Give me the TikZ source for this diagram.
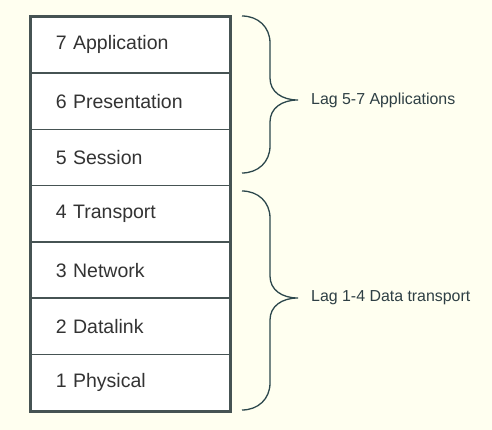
\documentclass[tikz,border=0pt]{standalone}
\usepackage{fontspec}
\setmainfont{Liberation Sans}
\definecolor{bgcream}{HTML}{FFFFF0}
\definecolor{boxline}{HTML}{465353}
\definecolor{boxtext}{HTML}{333333}
\definecolor{bracecol}{HTML}{2C474C}
\definecolor{labtext}{HTML}{2E3F44}
\begin{document}
\begin{tikzpicture}[x=1pt,y=-1pt,
  layer/.style={draw=boxline, line width=1.6pt, fill=white, rectangle,
    minimum width=199pt, minimum height=56.29pt, inner xsep=25pt,
    text width=149pt, align=left, font=\fontsize{19.5}{22}\selectfont,
    text=boxtext, anchor=north west},
  bracepath/.style={draw=bracecol, line width=1.3pt},
  bracelabel/.style={anchor=west, font=\fontsize{15.9}{18}\selectfont, text=labtext, inner sep=0pt}]
\useasboundingbox (0,0) rectangle (492,430);
\fill[bgcream] (0,0) rectangle (492,430);
% layers
\node[layer] (l7) at (30,16) {7 Application};
\node[layer] (l6) at (30,72.29) {6 Presentation};
\node[layer] (l5) at (30,128.57) {5 Session};
\node[layer] (l4) at (30,184.86) {4 Transport};
\node[layer] (l3) at (30,241.14) {3 Network};
\node[layer] (l2) at (30,297.43) {2 Datalink};
\node[layer] (l1) at (30,353.71) {1 Physical};
\draw[boxline, line width=1.9pt] (l7.north west) rectangle (l1.south east);
% upper brace
\coordinate (ua) at (242,16);
\coordinate (ut) at (298,100);
\coordinate (ub) at (242,173);
\draw[bracepath] (ua) .. controls (258,16) and (270,27) .. (270,43)
  -- (270,78) .. controls (270,92) and (282,100) .. (ut)
  .. controls (282,100) and (270,108) .. (270,122)
  -- (270,146) .. controls (270,162) and (258,173) .. (ub);
% lower brace
\coordinate (la) at (242,191);
\coordinate (lt) at (298,298);
\coordinate (lb) at (242,410);
\draw[bracepath] (la) .. controls (258,191) and (270,202) .. (270,218)
  -- (270,276) .. controls (270,290) and (282,298) .. (lt)
  .. controls (282,298) and (270,306) .. (270,320)
  -- (270,383) .. controls (270,399) and (258,410) .. (lb);
% labels
\node[bracelabel] (lab1) at (311,100) {Lag 5-7 Applications};
\node[bracelabel] (lab2) at (311,298) {Lag 1-4 Data transport};
\end{tikzpicture}
\end{document}
